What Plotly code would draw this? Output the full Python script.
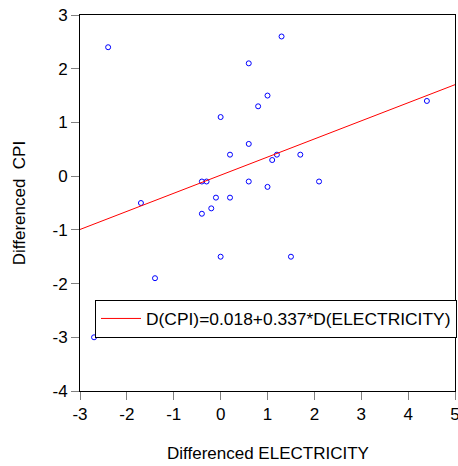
import plotly.graph_objects as go

d_electricity = [-2.4, 0.6, 0.8, 0.0, 0.2, 0.6, -0.4, -0.3, 0.6, -0.1, 0.2, 1.3, 1.0,
                 4.4, 1.2, 1.1, 1.7, 2.1, 1.0, -1.7, -0.4, -0.2, 0.0, -1.4, -2.7, 1.5]
d_cpi = [2.4, 2.1, 1.3, 1.1, 0.4, 0.6, -0.1, -0.1, -0.1, -0.4, -0.4, 2.6, 1.5,
         1.4, 0.4, 0.3, 0.4, -0.1, -0.2, -0.5, -0.7, -0.6, -1.5, -1.9, -3.0, -1.5]
intercept = 0.018
slope = 0.337
fit_x = [-3, 5]
fit_y = [intercept + slope * v for v in fit_x]
x_ticks = [-3, -2, -1, 0, 1, 2, 3, 4, 5]
x_tick_labels = ["-3", "-2", "-1", "0", "1", "2", "3", "4", "5"]
y_ticks = [-4, -3, -2, -1, 0, 1, 2, 3]
y_tick_labels = ["-4", "-3", "-2", "-1", "0", "1", "2", "3"]
fit_label = "D(CPI)=0.018+0.337*D(ELECTRICITY)"
x_title = "Differenced ELECTRICITY"
y_title = "Differenced  CPI"

fig = go.Figure()
fig.add_trace(go.Scatter(
    x=d_electricity, y=d_cpi, mode="markers", showlegend=False, cliponaxis=False,
    marker=dict(symbol="circle-open", size=5, color="#0000ff", line=dict(width=1, color="#0000ff")),
))
fig.add_trace(go.Scatter(
    x=fit_x, y=fit_y, mode="lines", name=fit_label,
    line=dict(color="#ff0000", width=1),
))

font = "Arial, Liberation Sans, sans-serif"
axis_common = dict(
    showgrid=False, zeroline=False, showline=True, linecolor="#000000", linewidth=1,
    mirror=True, ticks="outside", ticklen=8, tickcolor="#808080", tickwidth=1,
    tickfont=dict(family=font, size=17, color="#000000"), automargin=False,
    ticklabeloverflow="allow",
)
fig.update_layout(
    width=458, height=466,
    margin=dict(l=80, r=3, t=15, b=75, autoexpand=False),
    paper_bgcolor="white", plot_bgcolor="white",
    xaxis=dict(range=[-3, 5], tickvals=x_ticks, ticktext=x_tick_labels, **axis_common),
    yaxis=dict(range=[-4, 3], tickvals=y_ticks, ticktext=y_tick_labels, **axis_common),
    legend=dict(x=0.04, y=0.243, xanchor="left", yanchor="top", bgcolor="white",
                bordercolor="#000000", borderwidth=1, font=dict(family=font, size=17.4, color="#000000"),
                itemwidth=40),
    showlegend=True,
    annotations=[
        dict(text=x_title, xref="paper", yref="paper", x=0.5, y=-0.165, xanchor="center", yanchor="middle",
             showarrow=False, font=dict(family=font, size=17, color="#000000")),
        dict(text=y_title, xref="paper", yref="paper", x=-0.162, y=0.5, xanchor="center", yanchor="middle",
             textangle=-90, showarrow=False, font=dict(family=font, size=17, color="#000000")),
    ],
)
fig.write_html("out.html", config={"displayModeBar": False},
               post_script="document.body.style.margin='0px';document.body.style.overflow='hidden';")
